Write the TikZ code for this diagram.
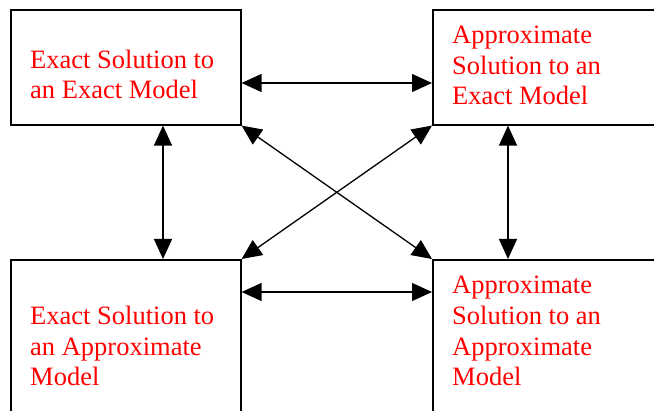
\documentclass[tikz,border=0pt]{standalone}
\usepackage{fontspec}
\setmainfont{Liberation Serif}
\usetikzlibrary{arrows.meta}
\def\tcolor{red}

\begin{document}
\begin{tikzpicture}[x=1pt, y=-1pt,
  box/.style={rectangle, draw, line width=1.6pt, anchor=north west, inner sep=0pt},
  txt/.style={anchor=base west, align=left, inner sep=0pt, text=\tcolor, font=\fontsize{26.5}{30.8}\selectfont},
  link/.style={{Triangle[length=20pt,width=18pt]}-{Triangle[length=20pt,width=18pt]}, line width=1.3pt}]

  \useasboundingbox (0,0) rectangle (654,411);
  \clip (0,0) rectangle (654,411);

  % the four boxes
  \node[box, minimum width=230pt, minimum height=115pt] (exex) at (10,9) {};
  \node[box, minimum width=240pt, minimum height=115pt] (apex) at (432,9) {};
  \node[box, minimum width=230pt, minimum height=170pt] (exap) at (10,259) {};
  \node[box, minimum width=240pt, minimum height=170pt] (apap) at (432,259) {};

  % texts, placed at the baseline of their last line
  \node[txt] (exextext) at (30,99) {Exact Solution to\\an Exact Model};
  \node[txt] (apextext) at (452,105) {Approximate\\Solution to an\\Exact Model};
  \node[txt] (exaptext) at (30,386) {Exact Solution to\\an Approximate\\Model};
  \node[txt] (apaptext) at (452,386) {Approximate\\Solution to an\\Approximate\\Model};

  \draw[link] (exex.east |- 0,83) -- (apex.west |- 0,83);
  \draw[link] (exap.east |- 0,292) -- (apap.west |- 0,292);
  \draw[link] (exex.south -| 163,0) -- (exap.north -| 163,0);
  \draw[link] (apex.south -| 508,0) -- (apap.north -| 508,0);
  \draw[link] (exex.south east) -- (apap.north west);
  \draw[link] (apex.south west) -- (exap.north east);
\end{tikzpicture}
\end{document}
